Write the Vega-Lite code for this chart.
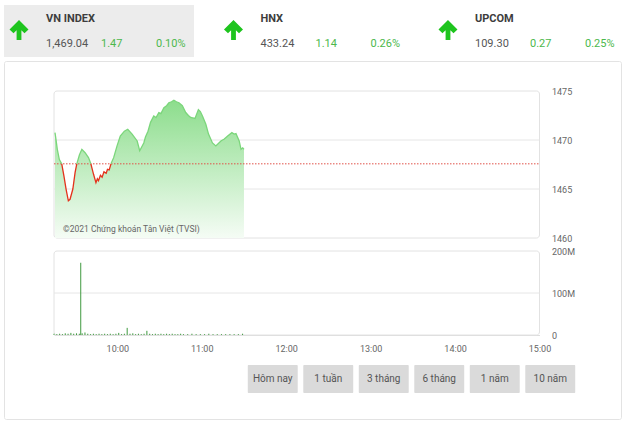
{
  "$schema": "https://vega.github.io/schema/vega-lite/v6.json",
  "background": "white",
  "padding": {"left": 3, "top": 0, "right": 0, "bottom": 0},
  "spacing": 3,
  "config": {
    "font": "Roboto",
    "view": {"stroke": null},
    "axis": {"labelFont": "Roboto", "labelColor": "#666", "labelFontSize": 9, "tickSize": 0, "grid": false, "title": null}
  },
  "datasets": {
    "hdr": [
      {"index": "VN INDEX", "value": "1,469.04", "change": "1.47", "pct": "0.10%"},
      {"index": "HNX", "value": "433.24", "change": "1.14", "pct": "0.26%"},
      {"index": "UPCOM", "value": "109.30", "change": "0.27", "pct": "0.25%"}
    ],
    "price": [
      {"t": "09:15:42", "p": 1470.75, "s": "g1"},
      {"t": "09:16:24", "p": 1470.07, "s": "g1"},
      {"t": "09:17:21", "p": 1469.05, "s": "g1"},
      {"t": "09:18:48", "p": 1468.0, "s": "g1"},
      {"t": "09:20:30", "p": 1467.57, "s": "g1"},
      {"t": "09:20:30", "p": 1467.57, "s": "r1"},
      {"t": "09:22:06", "p": 1466.3, "s": "r1"},
      {"t": "09:23:36", "p": 1464.97, "s": "r1"},
      {"t": "09:25:12", "p": 1463.8, "s": "r1"},
      {"t": "09:26:24", "p": 1463.95, "s": "r1"},
      {"t": "09:28:24", "p": 1465.0, "s": "r1"},
      {"t": "09:30:00", "p": 1466.7, "s": "r1"},
      {"t": "09:31:12", "p": 1467.57, "s": "r1"},
      {"t": "09:31:12", "p": 1467.57, "s": "g2"},
      {"t": "09:33:06", "p": 1468.5, "s": "g2"},
      {"t": "09:34:48", "p": 1469.05, "s": "g2"},
      {"t": "09:37:06", "p": 1468.7, "s": "g2"},
      {"t": "09:39:30", "p": 1468.2, "s": "g2"},
      {"t": "09:41:12", "p": 1467.57, "s": "g2"},
      {"t": "09:41:12", "p": 1467.57, "s": "r2"},
      {"t": "09:43:06", "p": 1466.5, "s": "r2"},
      {"t": "09:44:48", "p": 1465.65, "s": "r2"},
      {"t": "09:45:48", "p": 1466.05, "s": "r2"},
      {"t": "09:46:36", "p": 1465.85, "s": "r2"},
      {"t": "09:48:00", "p": 1466.4, "s": "r2"},
      {"t": "09:49:12", "p": 1466.2, "s": "r2"},
      {"t": "09:50:30", "p": 1466.75, "s": "r2"},
      {"t": "09:52:06", "p": 1466.6, "s": "r2"},
      {"t": "09:53:00", "p": 1467.0, "s": "r2"},
      {"t": "09:54:12", "p": 1466.95, "s": "r2"},
      {"t": "09:55:30", "p": 1467.57, "s": "r2"},
      {"t": "09:55:30", "p": 1467.57, "s": "g3"},
      {"t": "09:57:24", "p": 1468.2, "s": "g3"},
      {"t": "09:59:48", "p": 1469.4, "s": "g3"},
      {"t": "10:02:06", "p": 1470.4, "s": "g3"},
      {"t": "10:05:00", "p": 1470.9, "s": "g3"},
      {"t": "10:07:24", "p": 1471.1, "s": "g3"},
      {"t": "10:10:30", "p": 1470.6, "s": "g3"},
      {"t": "10:14:06", "p": 1469.9, "s": "g3"},
      {"t": "10:15:54", "p": 1468.9, "s": "g3"},
      {"t": "10:18:48", "p": 1469.7, "s": "g3"},
      {"t": "10:20:00", "p": 1470.3, "s": "g3"},
      {"t": "10:21:48", "p": 1470.9, "s": "g3"},
      {"t": "10:23:36", "p": 1471.8, "s": "g3"},
      {"t": "10:25:54", "p": 1472.45, "s": "g3"},
      {"t": "10:27:30", "p": 1472.3, "s": "g3"},
      {"t": "10:29:30", "p": 1472.8, "s": "g3"},
      {"t": "10:31:00", "p": 1472.7, "s": "g3"},
      {"t": "10:33:06", "p": 1473.3, "s": "g3"},
      {"t": "10:35:00", "p": 1473.5, "s": "g3"},
      {"t": "10:36:36", "p": 1473.8, "s": "g3"},
      {"t": "10:38:30", "p": 1473.9, "s": "g3"},
      {"t": "10:40:12", "p": 1474.05, "s": "g3"},
      {"t": "10:42:00", "p": 1473.9, "s": "g3"},
      {"t": "10:43:48", "p": 1473.8, "s": "g3"},
      {"t": "10:46:12", "p": 1473.5, "s": "g3"},
      {"t": "10:48:36", "p": 1472.8, "s": "g3"},
      {"t": "10:50:30", "p": 1472.5, "s": "g3"},
      {"t": "10:52:06", "p": 1472.3, "s": "g3"},
      {"t": "10:55:12", "p": 1472.2, "s": "g3"},
      {"t": "10:57:36", "p": 1473.1, "s": "g3"},
      {"t": "10:59:00", "p": 1472.9, "s": "g3"},
      {"t": "11:00:30", "p": 1472.45, "s": "g3"},
      {"t": "11:02:54", "p": 1471.6, "s": "g3"},
      {"t": "11:04:48", "p": 1470.6, "s": "g3"},
      {"t": "11:07:36", "p": 1469.7, "s": "g3"},
      {"t": "11:10:00", "p": 1469.4, "s": "g3"},
      {"t": "11:13:36", "p": 1469.9, "s": "g3"},
      {"t": "11:16:00", "p": 1470.1, "s": "g3"},
      {"t": "11:18:24", "p": 1470.4, "s": "g3"},
      {"t": "11:21:24", "p": 1470.75, "s": "g3"},
      {"t": "11:23:00", "p": 1470.6, "s": "g3"},
      {"t": "11:24:18", "p": 1470.65, "s": "g3"},
      {"t": "11:26:36", "p": 1469.9, "s": "g3"},
      {"t": "11:27:54", "p": 1469.05, "s": "g3"},
      {"t": "11:29:06", "p": 1469.2, "s": "g3"},
      {"t": "11:30:00", "p": 1469.04, "s": "g3"}
    ],
    "vol": [
      {"t": "09:15:00", "v": 3}, {"t": "09:17:00", "v": 2}, {"t": "09:19:00", "v": 3}, {"t": "09:21:00", "v": 2},
      {"t": "09:23:00", "v": 4}, {"t": "09:25:00", "v": 3}, {"t": "09:27:00", "v": 5}, {"t": "09:29:00", "v": 3},
      {"t": "09:31:00", "v": 4}, {"t": "09:33:00", "v": 3}, {"t": "09:34:00", "v": 172}, {"t": "09:35:00", "v": 4},
      {"t": "09:37:00", "v": 6}, {"t": "09:39:00", "v": 3}, {"t": "09:41:00", "v": 2}, {"t": "09:43:00", "v": 3},
      {"t": "09:45:00", "v": 2}, {"t": "09:47:00", "v": 3}, {"t": "09:49:00", "v": 2}, {"t": "09:51:00", "v": 3},
      {"t": "09:53:00", "v": 2}, {"t": "09:55:00", "v": 3}, {"t": "09:57:00", "v": 2}, {"t": "09:59:00", "v": 3},
      {"t": "10:01:00", "v": 5}, {"t": "10:03:00", "v": 2}, {"t": "10:05:00", "v": 3}, {"t": "10:07:00", "v": 17},
      {"t": "10:09:00", "v": 3}, {"t": "10:11:00", "v": 4}, {"t": "10:13:00", "v": 2}, {"t": "10:15:00", "v": 3},
      {"t": "10:17:00", "v": 2}, {"t": "10:19:00", "v": 3}, {"t": "10:21:00", "v": 10}, {"t": "10:23:00", "v": 3},
      {"t": "10:25:00", "v": 2}, {"t": "10:27:00", "v": 3}, {"t": "10:29:00", "v": 2}, {"t": "10:31:00", "v": 3},
      {"t": "10:33:00", "v": 2}, {"t": "10:35:00", "v": 3}, {"t": "10:37:00", "v": 2}, {"t": "10:39:00", "v": 3},
      {"t": "10:41:00", "v": 2}, {"t": "10:43:00", "v": 2}, {"t": "10:45:00", "v": 3}, {"t": "10:47:00", "v": 2},
      {"t": "10:50:00", "v": 2}, {"t": "10:53:00", "v": 3}, {"t": "10:56:00", "v": 2}, {"t": "10:59:00", "v": 2},
      {"t": "11:02:00", "v": 2}, {"t": "11:05:00", "v": 3}, {"t": "11:08:00", "v": 2}, {"t": "11:11:00", "v": 2},
      {"t": "11:14:00", "v": 2}, {"t": "11:17:00", "v": 2}, {"t": "11:20:00", "v": 2}, {"t": "11:23:00", "v": 2},
      {"t": "11:26:00", "v": 2}, {"t": "11:29:00", "v": 3}
    ],
    "btn": [
      {"label": "Hôm nay"}, {"label": "1 tuần"}, {"label": "3 tháng"},
      {"label": "6 tháng"}, {"label": "1 năm"}, {"label": "10 năm"}
    ]
  },
  "vconcat": [
    {
      "width": 617,
      "height": 57,
      "view": {"stroke": null},
      "data": {"name": "hdr"},
      "layer": [
        {
          "transform": [{"filter": "datum.index === 'VN INDEX'"}],
          "mark": {"type": "rect", "color": "#ececec"},
          "encoding": {
            "x": {"field": "index", "type": "nominal", "sort": null, "scale": {"type": "band", "domain": ["VN INDEX", "HNX", "UPCOM"], "range": [0, 619], "paddingInner": 0.1142, "paddingOuter": 0}, "axis": null},
            "y": {"datum": 0, "type": "quantitative", "scale": {"domain": [0, 1], "range": [5, 57], "nice": false, "zero": false}, "axis": null},
            "y2": {"datum": 1}
          }
        },
        {
          "mark": {"type": "point", "shape": "M0,-1 L0.95,-0.05 L0.55,0.32 L0.24,0.02 L0.24,1 L-0.24,1 L-0.24,0.02 L-0.55,0.32 L-0.95,-0.05 Z", "filled": true, "size": 400, "color": "#1ec41e", "opacity": 1, "xOffset": 15},
          "encoding": {
            "x": {"field": "index", "type": "nominal", "bandPosition": 0, "axis": null},
            "y": {"datum": 0.48, "type": "quantitative", "axis": null}
          }
        },
        {
          "mark": {"type": "text", "align": "left", "baseline": "middle", "dx": 42, "fontSize": 11, "fontWeight": "bold", "color": "#3d3d3d"},
          "encoding": {
            "x": {"field": "index", "type": "nominal", "bandPosition": 0, "axis": null},
            "y": {"datum": 0.27, "type": "quantitative", "axis": null},
            "text": {"field": "index"}
          }
        },
        {
          "mark": {"type": "text", "align": "left", "baseline": "middle", "dx": 42, "fontSize": 11, "color": "#555"},
          "encoding": {
            "x": {"field": "index", "type": "nominal", "bandPosition": 0, "axis": null},
            "y": {"datum": 0.75, "type": "quantitative", "axis": null},
            "text": {"field": "value"}
          }
        },
        {
          "mark": {"type": "text", "align": "left", "baseline": "middle", "dx": 97, "fontSize": 11, "color": "#4cb84c"},
          "encoding": {
            "x": {"field": "index", "type": "nominal", "bandPosition": 0, "axis": null},
            "y": {"datum": 0.75, "type": "quantitative", "axis": null},
            "text": {"field": "change"}
          }
        },
        {
          "mark": {"type": "text", "align": "left", "baseline": "middle", "dx": 152, "fontSize": 11, "color": "#4cb84c"},
          "encoding": {
            "x": {"field": "index", "type": "nominal", "bandPosition": 0, "axis": null},
            "y": {"datum": 0.75, "type": "quantitative", "axis": null},
            "text": {"field": "pct"}
          }
        }
      ]
    },
    {
      "width": 617,
      "height": 358,
      "view": {"stroke": "#e3e3e3", "cornerRadius": 2},
      "resolve": {"scale": {"x": "independent", "y": "independent"}, "axis": {"x": "independent", "y": "independent"}},
      "layer": [
        {
          "data": {"values": [{}]},
          "mark": {"type": "rect", "filled": false, "stroke": "#e2e2e2", "strokeWidth": 1, "cornerRadius": 3},
          "encoding": {
            "x": {"datum": {"year": 1900, "month": 1, "date": 1, "hours": 9, "minutes": 15}, "type": "temporal", "scale": {"domain": [{"year": 1900, "month": 1, "date": 1, "hours": 9, "minutes": 15}, {"year": 1900, "month": 1, "date": 1, "hours": 15}], "range": [50, 535.5], "nice": false}, "axis": null},
            "x2": {"datum": {"year": 1900, "month": 1, "date": 1, "hours": 15}},
            "y": {"datum": 1475, "type": "quantitative", "scale": {"domain": [1460, 1475], "range": [177, 30], "nice": false, "zero": false}, "axis": null},
            "y2": {"datum": 1460}
          }
        },
        {
          "data": {"values": [{"v": 1465}, {"v": 1470}]},
          "mark": {"type": "rule", "color": "#e6e6e6", "strokeWidth": 1},
          "encoding": {
            "x": {"datum": {"year": 1900, "month": 1, "date": 1, "hours": 9, "minutes": 15}, "type": "temporal", "scale": {"domain": [{"year": 1900, "month": 1, "date": 1, "hours": 9, "minutes": 15}, {"year": 1900, "month": 1, "date": 1, "hours": 15}], "range": [50, 535.5], "nice": false}, "axis": null},
            "x2": {"datum": {"year": 1900, "month": 1, "date": 1, "hours": 15}},
            "y": {"field": "v", "type": "quantitative", "scale": {"domain": [1460, 1475], "range": [177, 30], "nice": false, "zero": false}, "axis": {"orient": "right", "offset": -81.5, "values": [1460, 1465, 1470, 1475], "format": "d", "domain": false, "labelPadding": 12, "labelBaseline": "middle"}}
          }
        },
        {
          "data": {"name": "price", "format": {"parse": {"t": "date:'%H:%M:%S'"}}},
          "layer": [
            {
              "mark": {"type": "area", "color": {"gradient": "linear", "x1": 0, "y1": 0, "x2": 0, "y2": 1, "stops": [{"offset": 0, "color": "#8cdd8c"}, {"offset": 1, "color": "#f5fcf5"}]}},
              "encoding": {
                "x": {"field": "t", "type": "temporal", "scale": {"domain": [{"year": 1900, "month": 1, "date": 1, "hours": 9, "minutes": 15}, {"year": 1900, "month": 1, "date": 1, "hours": 15}], "range": [50, 535.5], "nice": false}, "axis": null},
                "y": {"field": "p", "type": "quantitative", "scale": {"domain": [1460, 1475], "range": [177, 30], "nice": false, "zero": false}, "axis": null},
                "y2": {"datum": 1460}
              }
            },
            {
              "data": {"values": [{}]},
              "mark": {"type": "rule", "color": "#e0524a", "strokeDash": [1.5, 1.5], "strokeWidth": 1},
              "encoding": {
                "x": {"datum": {"year": 1900, "month": 1, "date": 1, "hours": 9, "minutes": 15}, "type": "temporal", "scale": {"domain": [{"year": 1900, "month": 1, "date": 1, "hours": 9, "minutes": 15}, {"year": 1900, "month": 1, "date": 1, "hours": 15}], "range": [50, 535.5], "nice": false}, "axis": null},
                "x2": {"datum": {"year": 1900, "month": 1, "date": 1, "hours": 15}},
                "y": {"datum": 1467.57, "type": "quantitative", "scale": {"domain": [1460, 1475], "range": [177, 30], "nice": false, "zero": false}, "axis": null}
              }
            },
            {
              "mark": {"type": "line", "strokeWidth": 1.3},
              "encoding": {
                "x": {"field": "t", "type": "temporal", "scale": {"domain": [{"year": 1900, "month": 1, "date": 1, "hours": 9, "minutes": 15}, {"year": 1900, "month": 1, "date": 1, "hours": 15}], "range": [50, 535.5], "nice": false}, "axis": null},
                "y": {"field": "p", "type": "quantitative", "scale": {"domain": [1460, 1475], "range": [177, 30], "nice": false, "zero": false}, "axis": null},
                "color": {"field": "s", "type": "nominal", "scale": {"domain": ["g1", "r1", "g2", "r2", "g3"], "range": ["#7bd67b", "#e4321c", "#7bd67b", "#e4321c", "#7bd67b"]}, "legend": null}
              }
            }
          ]
        },
        {
          "data": {"values": [{}]},
          "mark": {"type": "text", "text": "©2021 Chứng khoán Tân Việt (TVSI)", "align": "left", "baseline": "middle", "dx": 9, "dy": -9, "fontSize": 8.5, "color": "#666", "font": "Roboto"},
          "encoding": {
            "x": {"datum": {"year": 1900, "month": 1, "date": 1, "hours": 9, "minutes": 15}, "type": "temporal", "scale": {"domain": [{"year": 1900, "month": 1, "date": 1, "hours": 9, "minutes": 15}, {"year": 1900, "month": 1, "date": 1, "hours": 15}], "range": [50, 535.5], "nice": false}, "axis": null},
            "y": {"datum": 1460, "type": "quantitative", "scale": {"domain": [1460, 1475], "range": [177, 30], "nice": false, "zero": false}, "axis": null}
          }
        },
        {
          "data": {"values": [{}]},
          "mark": {"type": "rect", "filled": false, "stroke": "#e2e2e2", "strokeWidth": 1, "cornerRadius": 3},
          "encoding": {
            "x": {"datum": {"year": 1900, "month": 1, "date": 1, "hours": 9, "minutes": 15}, "type": "temporal", "scale": {"domain": [{"year": 1900, "month": 1, "date": 1, "hours": 9, "minutes": 15}, {"year": 1900, "month": 1, "date": 1, "hours": 15}], "range": [50, 535.5], "nice": false}, "axis": null},
            "x2": {"datum": {"year": 1900, "month": 1, "date": 1, "hours": 15}},
            "y": {"datum": 200, "type": "quantitative", "scale": {"domain": [0, 200], "range": [274, 190], "nice": false}, "axis": null},
            "y2": {"datum": 0}
          }
        },
        {
          "data": {"values": [{}]},
          "mark": {"type": "rule", "color": "#e6e6e6", "strokeWidth": 1},
          "encoding": {
            "x": {"datum": {"year": 1900, "month": 1, "date": 1, "hours": 9, "minutes": 15}, "type": "temporal", "scale": {"domain": [{"year": 1900, "month": 1, "date": 1, "hours": 9, "minutes": 15}, {"year": 1900, "month": 1, "date": 1, "hours": 15}], "range": [50, 535.5], "nice": false}, "axis": null},
            "x2": {"datum": {"year": 1900, "month": 1, "date": 1, "hours": 15}},
            "y": {"datum": 100, "type": "quantitative", "scale": {"domain": [0, 200], "range": [274, 190], "nice": false}, "axis": null}
          }
        },
        {
          "data": {"name": "vol", "format": {"parse": {"t": "date:'%H:%M:%S'"}}},
          "mark": {"type": "rule", "color": "#3f9a3f", "strokeWidth": 1},
          "encoding": {
            "x": {"field": "t", "type": "temporal", "scale": {"domain": [{"year": 1900, "month": 1, "date": 1, "hours": 9, "minutes": 15}, {"year": 1900, "month": 1, "date": 1, "hours": 15}], "range": [50, 535.5], "nice": false},
              "axis": {"orient": "bottom", "offset": -84, "format": "%H:%M", "values": [{"year": 1900, "month": 1, "date": 1, "hours": 10}, {"year": 1900, "month": 1, "date": 1, "hours": 11}, {"year": 1900, "month": 1, "date": 1, "hours": 12}, {"year": 1900, "month": 1, "date": 1, "hours": 13}, {"year": 1900, "month": 1, "date": 1, "hours": 14}, {"year": 1900, "month": 1, "date": 1, "hours": 15}], "domain": true, "domainColor": "#dddddd", "labelPadding": 9, "labelFlush": false}},
            "y": {"field": "v", "type": "quantitative", "scale": {"domain": [0, 200], "range": [274, 190], "nice": false},
              "axis": {"orient": "right", "offset": -81.5, "values": [0, 100, 200], "labelExpr": "datum.value == 0 ? '0' : datum.value + 'M'", "domain": false, "labelPadding": 12, "labelBaseline": "middle"}},
            "y2": {"datum": 0}
          }
        },
        {
          "data": {"name": "btn"},
          "mark": {"type": "rect", "color": "#dadada", "cornerRadius": 1},
          "encoding": {
            "x": {"field": "label", "type": "nominal", "sort": null, "scale": {"type": "band", "domain": ["Hôm nay", "1 tuần", "3 tháng", "6 tháng", "1 năm", "10 năm"], "range": [241, 574], "paddingInner": 0.1, "paddingOuter": 0.05}, "axis": null},
            "y": {"datum": 0, "type": "quantitative", "scale": {"domain": [0, 1], "range": [304, 332], "nice": false}, "axis": null},
            "y2": {"datum": 1}
          }
        },
        {
          "data": {"name": "btn"},
          "mark": {"type": "text", "baseline": "middle", "fontSize": 10, "color": "#555", "font": "Roboto"},
          "encoding": {
            "x": {"field": "label", "type": "nominal", "sort": null, "scale": {"type": "band", "domain": ["Hôm nay", "1 tuần", "3 tháng", "6 tháng", "1 năm", "10 năm"], "range": [241, 574], "paddingInner": 0.1, "paddingOuter": 0.05}, "axis": null},
            "y": {"datum": 0.5, "type": "quantitative", "scale": {"domain": [0, 1], "range": [304, 332], "nice": false}, "axis": null},
            "text": {"field": "label"}
          }
        }
      ]
    }
  ]
}
